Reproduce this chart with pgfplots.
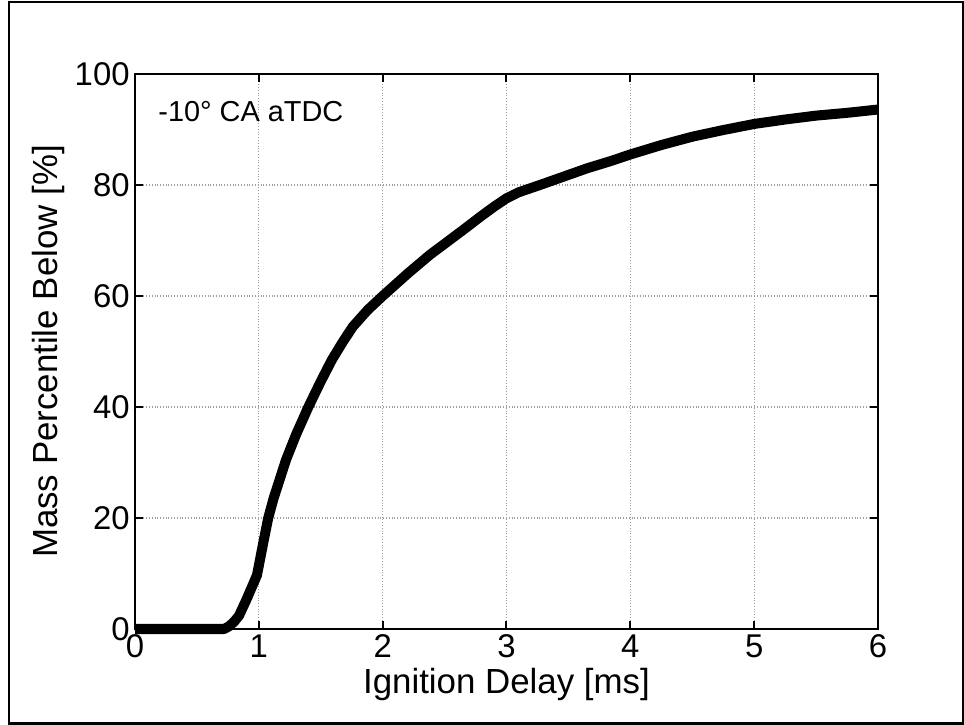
\documentclass[border=0pt]{standalone}
\usepackage{pgfplots}
\pgfplotsset{compat=1.18}
\usepackage{fontspec}
\setmainfont{Liberation Sans}
\begin{document}
\begin{tikzpicture}
\useasboundingbox (0,0) rectangle (482bp,362.5bp);
\draw[line width=1.2bp] (4.5bp,0.8bp) rectangle (481.5bp,361.6bp);
\begin{axis}[
 at={(67.5bp,48bp)}, anchor=south west,
 width=371.5bp, height=277.5bp, scale only axis,
 xmin=0, xmax=6, ymin=0, ymax=100,
 xtick={0,1,2,3,4,5,6}, ytick={0,20,40,60,80,100},
 grid=major, major grid style={densely dotted, gray!75, line width=0.6bp},
 tick align=inside, major tick length=4bp,
 axis line style={line width=1bp},
 every tick/.style={black, line width=1bp},
 /pgf/number format/assume math mode=true,
 tick label style={font=\fontsize{16.5}{18}\selectfont},
 yticklabel style={inner xsep=2.5bp},
 xticklabel style={inner ysep=2.5bp},
 label style={font=\fontsize{17.5}{20}\selectfont},
 xlabel={Ignition Delay [ms]},
 ylabel={Mass Percentile Below [\%]},
 xlabel style={at={(axis description cs:0.5,-0.1)}, anchor=center},
 ylabel style={at={(axis description cs:-0.117,0.5)}, anchor=center},
 clip=false,
]
\addplot[black, line width=5bp, line join=round] coordinates {
(0,0) (0.72,0) (0.76,0.5) (0.80,1.3) (0.84,2.4) (0.90,5.3) (0.985,9.7)
(1.04,16) (1.076,20) (1.12,23.6) (1.22,30.5) (1.3,35) (1.40,40)
(1.5,44.6) (1.59,48.5) (1.68,51.8) (1.76,54.5) (1.88,57.5) (2.0,60)
(2.1,62) (2.2,64) (2.38,67.4) (2.5,69.4) (2.65,71.9) (2.79,74.3)
(2.9,76.1) (3.0,77.6) (3.1,78.7) (3.27,80) (3.46,81.5) (3.65,83)
(3.84,84.3) (4.0,85.5) (4.25,87.2) (4.5,88.7) (4.75,89.9) (5.0,91)
(5.25,91.8) (5.5,92.5) (5.75,93) (6.0,93.6)
};
\node[anchor=west, inner sep=0pt, font=\fontsize{14.5}{16}\selectfont] at (axis cs:0.186,93.3) {-10° CA aTDC};
\end{axis}
\end{tikzpicture}
\end{document}
